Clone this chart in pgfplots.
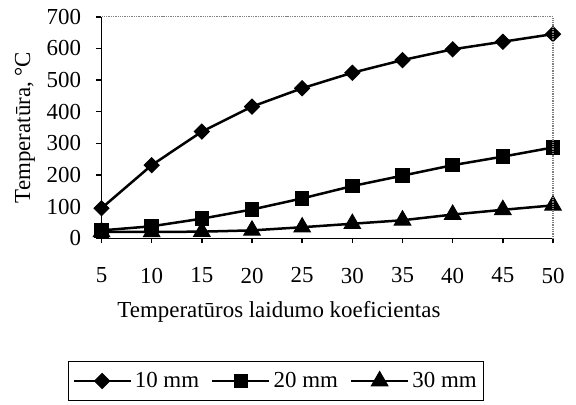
\documentclass[border=0pt]{standalone}
\usepackage{fontspec}
\setmainfont{Liberation Serif}
\usepackage{pgfplots}
\pgfplotsset{compat=1.18}

\newcommand{\ff}{\fontsize{23}{27}\selectfont}

\begin{document}
\begin{tikzpicture}
\path[use as bounding box] (-101.5bp,-166.7bp) rectangle (474.5bp,238.3bp);
\begin{axis}[
    name=a,
    at={(0,0)}, anchor=south west,
    scale only axis,
    width=451.5bp, height=221.6bp,
    xmin=5, xmax=50,
    ymin=0, ymax=700,
    xtick={5,10,...,50},
    ytick={0,100,...,700},
    axis lines=left,
    axis line style={-, line width=1.6bp},
    tick align=outside,
    major tick length=5bp,
    tick style={line width=1.6bp, black},
    clip=false,
    /pgf/number format/assume math mode=true,
    tick label style={font=\ff},
    x tick label style={yshift=-21bp},
    y tick label style={xshift=-12bp},
    xlabel={Temperatūros laidumo koeficientas},
    ylabel={Temperatūra, °C},
    label style={font=\ff},
    xlabel style={at={(axis description cs:0.393,-0.33)}, anchor=center},
    ylabel style={at={(axis description cs:-0.1694,0.5)}, anchor=center},
    legend columns=-1,
    legend image code/.code={\draw[mark repeat=2,mark phase=2,#1] plot coordinates {(0bp,0bp)(28.5bp,0bp)(57bp,0bp)};},
    legend style={font=\ff, draw=black, line width=1.6bp,
        at={(axis description cs:0.3865,-0.644)}, anchor=center,
        inner xsep=4bp, inner ysep=8bp,
        nodes={inner sep=3bp},
        /tikz/every even column/.append style={column sep=9bp}},
]
\addplot[black, line width=2.5bp, mark=square*, mark size=5.3bp, mark options={rotate=45, solid, fill=black, line width=1bp}]
    coordinates {(5,95) (10,231) (15,337) (20,416) (25,474) (30,523) (35,563) (40,597) (45,621) (50,645)};
\addplot[black, line width=2.5bp, mark=square*, mark size=6.7bp, mark options={solid, fill=black, line width=1bp}]
    coordinates {(5,25) (10,38) (15,62) (20,91) (25,126) (30,165) (35,198) (40,231) (45,258) (50,287)};
\addplot[black, line width=2.5bp, mark=triangle*, mark size=9.5bp, mark options={solid, fill=black, line width=1bp}]
    coordinates {(5,20) (10,20) (15,21) (20,25) (25,35) (30,46) (35,57) (40,75) (45,90) (50,104)};
\legend{10 mm, 20 mm, 30 mm}
\end{axis}
\draw[gray, densely dotted, line width=1.3bp] (a.north west) -- (a.north east) -- (a.south east);
\end{tikzpicture}
\end{document}
